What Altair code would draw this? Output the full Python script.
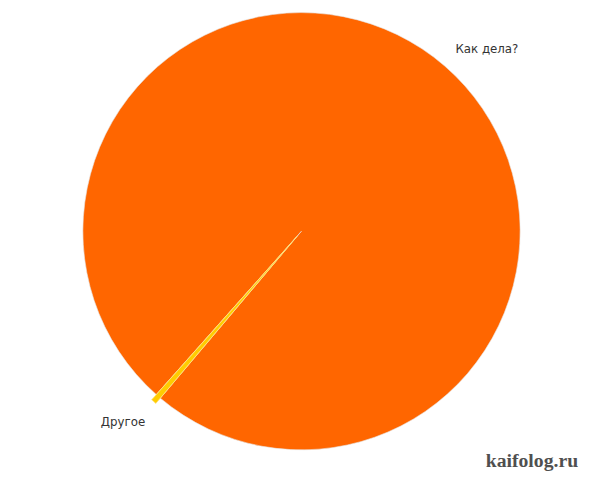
import math
import altair as alt
import pandas as pd

categories = ["Другое", "Как дела?"]
values = [0.4, 99.6]
colors = ["#FFCC00", "#FF6600"]
order = [0, 1]
watermark = ["kaifolog.ru"]

df = pd.DataFrame({"category": categories, "value": values, "order": order})

start = math.radians(220.2)
theta = alt.Theta("value:Q", stack=True,
                  scale=alt.Scale(range=[start, start + 2 * math.pi]))
color = alt.Color("category:N", scale=alt.Scale(domain=categories, range=colors), legend=None)

base = alt.Chart(df).encode(theta=theta, order=alt.Order("order:Q"), color=color)

is_other = alt.datum.category == "Другое"

main = base.mark_arc(outerRadius=222, stroke="#e6e6e6", strokeWidth=0.6).encode(
    opacity=alt.condition(is_other, alt.value(0), alt.value(1))
)
exploded = base.mark_arc(outerRadius=222, xOffset=-4.6, yOffset=5.3,
                         stroke="#FFE27A", strokeWidth=0.8).encode(
    opacity=alt.condition(is_other, alt.value(1), alt.value(0))
)
label_main = base.mark_text(radius=263, dx=16, dy=14, font="DejaVu Sans", fontSize=12).encode(
    text="category:N", color=alt.value("#333333"),
    opacity=alt.condition(is_other, alt.value(0), alt.value(1))
)
label_other = base.mark_text(radius=263, dx=-9, dy=-5, font="DejaVu Sans", fontSize=12).encode(
    text="category:N", color=alt.value("#333333"),
    opacity=alt.condition(is_other, alt.value(1), alt.value(0))
)

wm = alt.Chart(pd.DataFrame({"t": watermark})).mark_text(
    font="Liberation Serif", fontSize=20, fontWeight="bold", color="#3d3d3d", opacity=0.9
).encode(text="t:N", x=alt.value(529), y=alt.value(456))

chart = alt.layer(main, exploded, label_main, label_other, wm).properties(
    width=590, height=446, autosize=alt.AutoSizeParams(type="none"),
    padding={"left": 3, "top": 0, "right": 0, "bottom": 26}
).configure_view(stroke=None)

chart.save("out.html", embed_options={"renderer": "svg", "actions": False})
